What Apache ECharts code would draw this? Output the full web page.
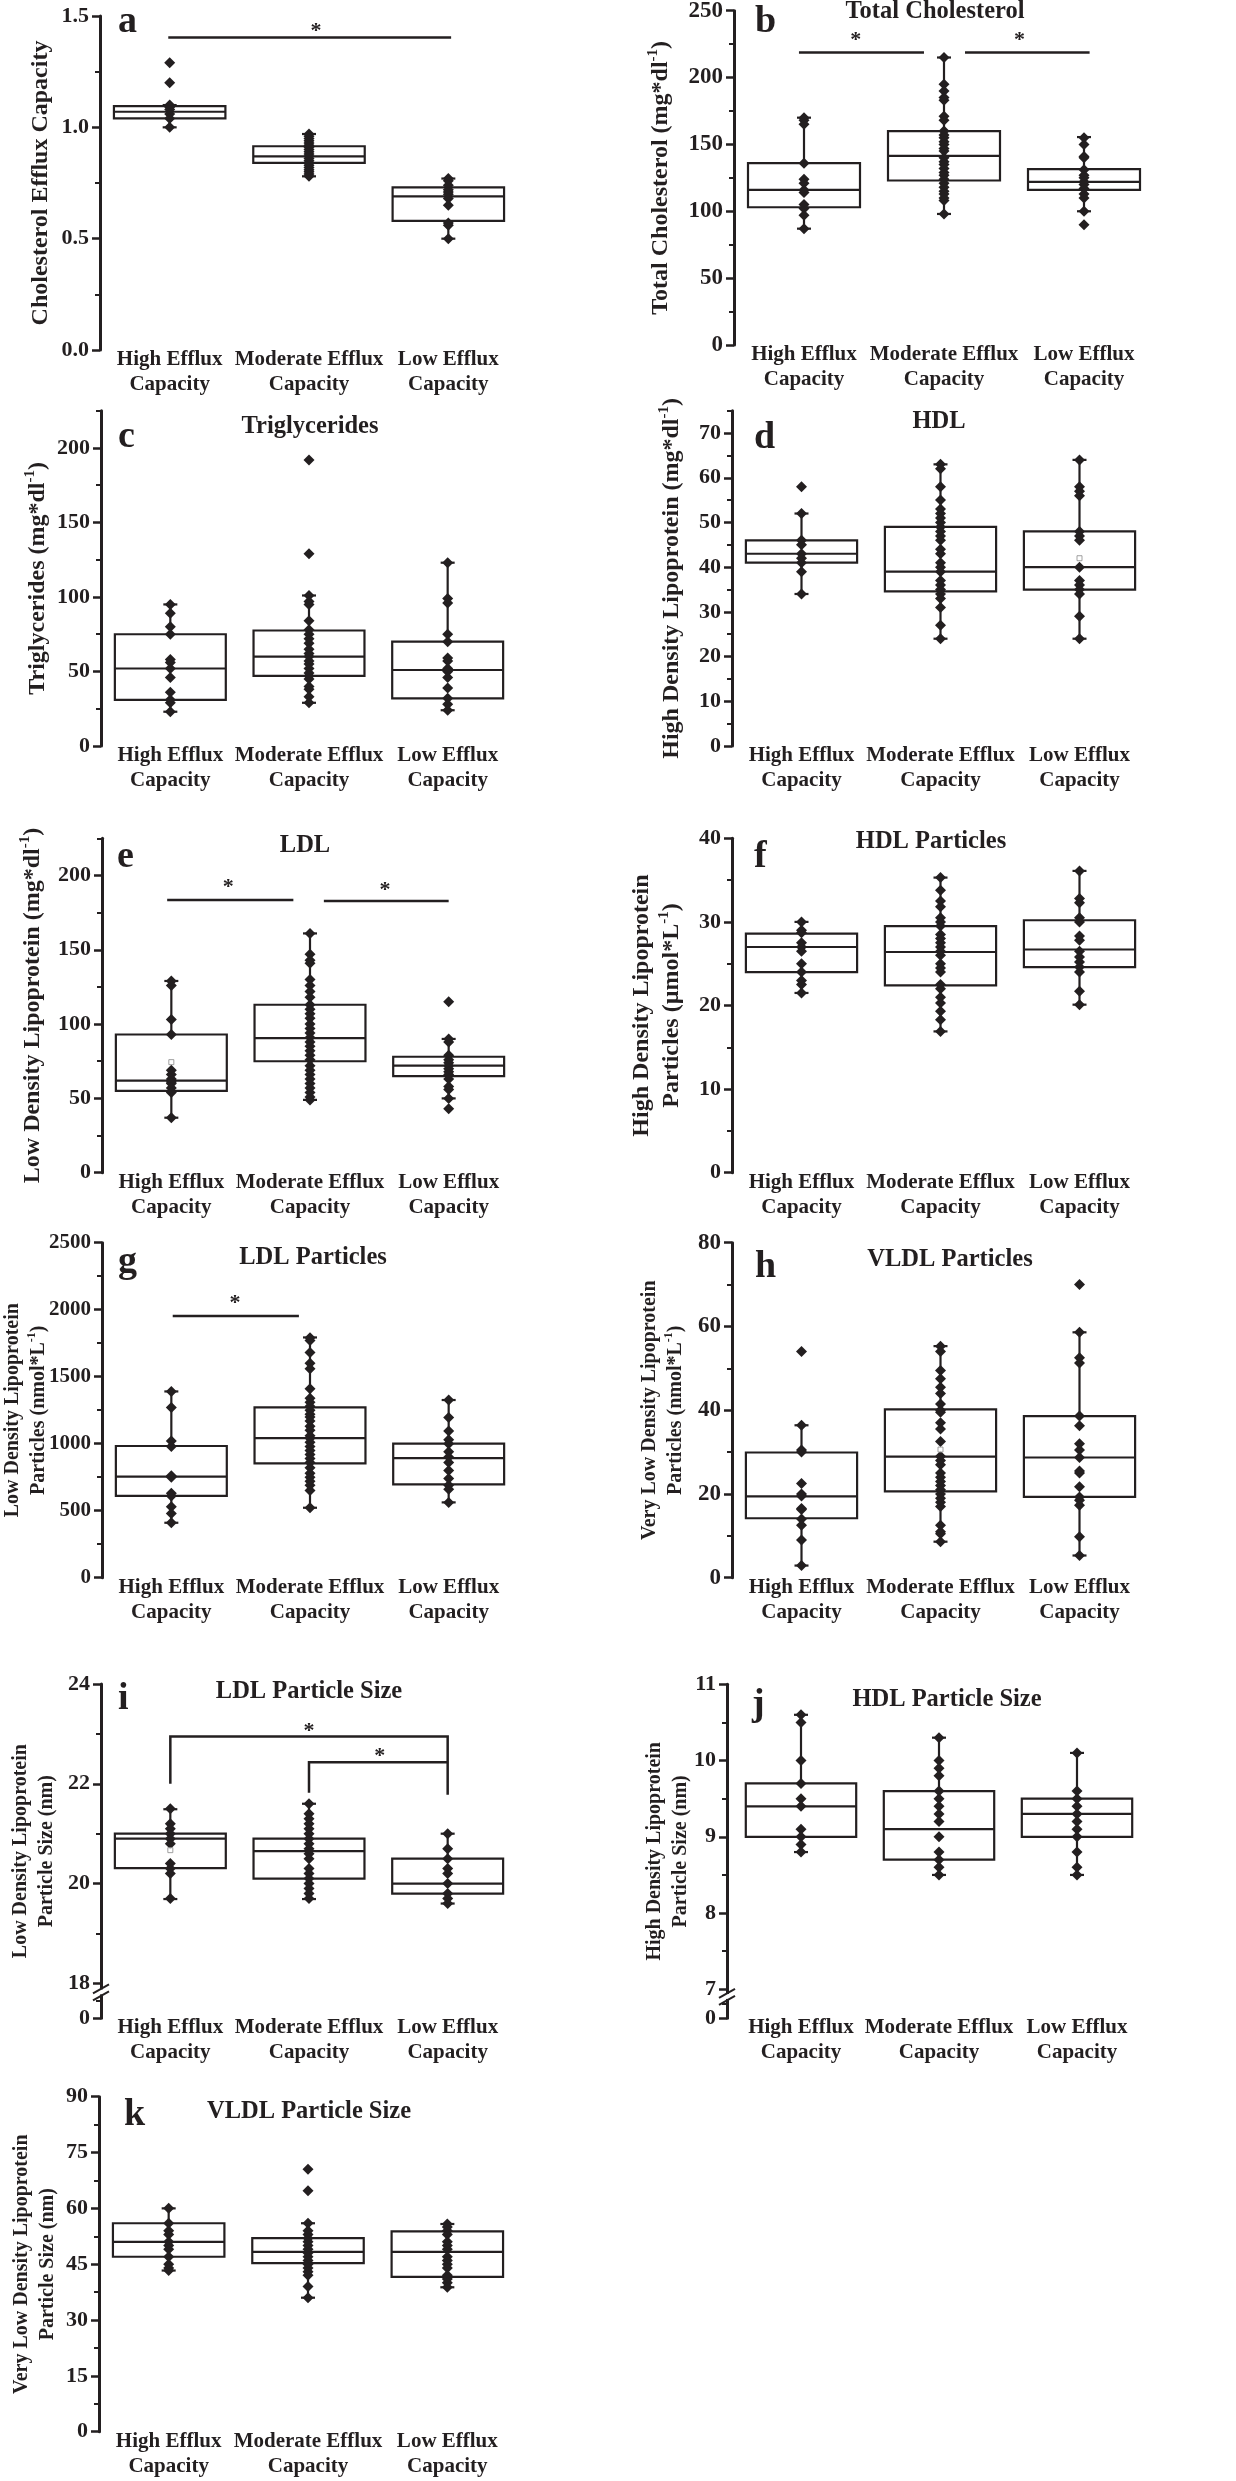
<!DOCTYPE html>
<html>
<head>
<meta charset="utf-8">
<script src="https://cdn.jsdelivr.net/npm/echarts@6/dist/echarts.min.js"></script>
<style>
  html, body { margin: 0; background: #fff; }
  #chart { width: 1236px; height: 2481px; }
</style>
</head>
<body>
<div id="chart"></div>
<script>
var groups = ['High Efflux\nCapacity', 'Moderate Efflux\nCapacity', 'Low Efflux\nCapacity'];

// box stats per group: [lower whisker, Q1, median, Q3, upper whisker]
var effluxBox = [[1.00, 1.04, 1.07, 1.095, 1.10], [0.78, 0.84, 0.87, 0.915, 0.97], [0.50, 0.58, 0.69, 0.73, 0.77]];
var effluxPts = [
  [1.29, 1.20, 1.10, 1.09, 1.08, 1.06, 1.04, 1.00],
  [0.97, 0.96, 0.95, 0.94, 0.93, 0.92, 0.91, 0.90, 0.89, 0.88, 0.87, 0.86, 0.85, 0.84, 0.83, 0.82, 0.81, 0.80, 0.79, 0.78],
  [0.77, 0.76, 0.74, 0.72, 0.71, 0.70, 0.68, 0.65, 0.57, 0.56, 0.50]
];
var effluxTicks = [0, 0.5, 1, 1.5];

var tcBox = [[87, 103, 116, 136, 170], [98, 123, 141.5, 160, 215], [100, 116, 122, 131.5, 155.5]];
var tcPts = [
  [170, 168, 165, 136, 124, 121, 116, 114, 105, 102, 97, 87],
  [215, 195, 190, 185, 183, 171, 168, 160, 157, 155, 152, 150, 147, 145, 140, 137, 135, 132, 129, 127, 124, 121, 118, 115, 113, 110, 108, 98],
  [155, 150, 141, 140, 131, 127, 125, 122, 120, 117, 113, 110, 100, 90]
];
var tcTicks = [0, 50, 100, 150, 200, 250];

var tgBox = [[23, 31, 52, 75, 95], [29, 47, 60, 77.5, 101], [24, 32, 51, 70, 123]];
var tgPts = [
  [95, 89, 80, 75, 58, 56, 52, 46, 36, 31, 29, 23],
  [192, 129, 101, 97, 95, 84, 78, 75, 72, 69, 65, 62, 60, 57, 55, 52, 49, 47, 45, 40, 38, 33, 29],
  [123, 99, 96, 75, 70, 59, 57, 52, 50, 46, 39, 32, 28, 24]
];
var tgTicks = [0, 50, 100, 150, 200];

var hdlBox = [[34, 41, 43, 46, 52], [24, 34.6, 39, 49, 63], [24, 35, 40, 48, 64]];
var hdlPts = [
  [58, 52, 46, 45, 43, 42, 41, 39, 34],
  [63, 62, 58, 55, 53, 52, 51, 50, 49, 48, 47, 46, 44, 43, 41, 40, 39, 37, 36, 35, 34, 33, 31, 27, 24],
  [64, 58, 57, 56, 48, 47, 46, 40, 37, 36, 35, 34, 29, 24]
];
var hdlMean = [null, null, 42];
var hdlTicks = [0, 10, 20, 30, 40, 50, 60, 70];

var ldlBox = [[37, 55, 62, 93, 129], [49, 75, 90.5, 113, 161], [50, 65, 72, 78, 90]];
var ldlPts = [
  [129, 126, 103, 93, 69, 66, 63, 61, 60, 57, 54, 37],
  [161, 147, 143, 141, 130, 126, 122, 118, 113, 110, 107, 104, 100, 97, 94, 91, 88, 85, 82, 79, 76, 72, 69, 66, 63, 60, 57, 54, 51, 49],
  [115, 90, 88, 79, 76, 74, 72, 70, 68, 66, 63, 58, 56, 50, 43]
];
var ldlMean = [74.4, null, null];
var ldlTicks = [0, 50, 100, 150, 200];

var hdlpBox = [[21.5, 24, 27, 28.6, 30], [16.9, 22.4, 26.4, 29.5, 35.3], [20.1, 24.6, 26.7, 30.2, 36.1]];
var hdlpPts = [
  [30, 29, 28.7, 27.5, 27, 26.5, 25, 24, 23, 22.5, 21.5],
  [35.3, 33.8, 32.5, 31.8, 30.5, 30, 29.5, 28.5, 28, 27.5, 27, 26.5, 26, 25, 24.5, 24, 22.5, 22, 21, 20.3, 19.3, 18.3, 16.9],
  [36.1, 32.8, 32.3, 30.5, 30, 28.3, 27.8, 26.5, 25.8, 25.2, 24.6, 24, 21.7, 20.1]
];
var hdlpTicks = [0, 10, 20, 30, 40];

var ldlpBox = [[410, 610, 754, 983, 1390], [522, 853, 1042, 1271, 1793], [562, 697, 893, 1000, 1326]];
var ldlpPts = [
  [1390, 1270, 1020, 980, 760, 750, 630, 610, 530, 480, 410],
  [1790, 1770, 1680, 1600, 1560, 1410, 1340, 1310, 1280, 1250, 1220, 1200, 1170, 1130, 1100, 1060, 1040, 1010, 980, 950, 920, 890, 860, 820, 780, 750, 720, 690, 650, 522],
  [1326, 1195, 1095, 1030, 1000, 940, 900, 860, 800, 740, 690, 660, 562]
];
var ldlpTicks = [0, 500, 1000, 1500, 2000, 2500];

var vldlpBox = [[2.9, 14.2, 19.4, 29.9, 36.4], [8.6, 20.6, 28.9, 40.2, 55.3], [5.3, 19.3, 28.7, 38.6, 58.6]];
var vldlpPts = [
  [54, 36.4, 30.5, 30, 22.5, 20, 19.5, 16.5, 16.3, 14, 12.5, 9, 2.9],
  [55.3, 54, 49.5, 47.5, 45.5, 44, 41.5, 40, 39.5, 37, 35.5, 32.5, 29, 28, 27, 25, 24, 23, 22, 21, 20, 19, 18, 17, 12.5, 11, 10.5, 8.6],
  [70, 58.6, 52.5, 51.3, 38.6, 36.3, 32, 30.5, 28.7, 25.5, 25, 21.7, 19.3, 18.5, 17.3, 9.8, 5.3]
];
var vldlpMean = [null, 30.6, null];
var vldlpTicks = [0, 20, 40, 60, 80];

var ldlsBox = [[19.69, 20.31, 20.9, 21.0, 21.49], [19.69, 20.1, 20.65, 20.9, 21.6], [19.6, 19.8, 20.0, 20.5, 21.0]];
var ldlsPts = [
  [21.5, 21.2, 21.1, 21.0, 20.9, 20.8, 20.4, 20.3, 20.2, 19.7],
  [21.6, 21.4, 21.3, 21.2, 21.1, 21.0, 20.9, 20.8, 20.7, 20.6, 20.5, 20.3, 20.2, 20.1, 20.0, 19.9, 19.8, 19.7],
  [21.0, 20.7, 20.5, 20.3, 20.2, 20.0, 19.8, 19.7, 19.6]
];
var ldlsMean = [20.67, null, null];
var ldlsTicks = [17.3, 18, 20, 22, 24];   // first tick sits below the axis break and reads "0"

var hdlsBox = [[8.8, 9.0, 9.4, 9.7, 10.6], [8.5, 8.7, 9.1, 9.6, 10.3], [8.5, 9.0, 9.3, 9.5, 10.1]];
var hdlsPts = [
  [10.6, 10.5, 10.0, 9.7, 9.5, 9.4, 9.1, 9.0, 8.9, 8.8],
  [10.3, 10.0, 9.9, 9.8, 9.6, 9.5, 9.4, 9.3, 9.2, 9.0, 8.8, 8.7, 8.6, 8.5],
  [10.1, 9.6, 9.5, 9.4, 9.3, 9.2, 9.1, 9.0, 8.8, 8.6, 8.5]
];
var hdlsTicks = [6.62, 7, 8, 9, 10, 11];  // first tick reads "0"

var vldlsBox = [[43.3, 47, 51, 56, 60], [36, 45.3, 48.3, 52, 56], [38.8, 41.6, 48.3, 53.8, 55.8]];
var vldlsPts = [
  [60, 56, 54, 53, 51, 50, 49, 47, 45, 44, 43.3],
  [70.5, 64.7, 56, 54, 53, 52, 51, 50, 49, 48, 47, 46, 45, 44, 43, 42, 39, 36],
  [55.8, 55, 54, 53, 51, 50, 49, 47, 46, 45, 44, 42, 41, 40, 38.8]
];
var vldlsTicks = [0, 15, 30, 45, 60, 75, 90];

var INK = '#231f20';
var FONT = '"Liberation Serif", "Times New Roman", serif';

// minor ticks halfway between majors
function mids(t, extra) {
  var out = [];
  for (var i = 1; i < t.length; i++) out.push((t[i - 1] + t[i]) / 2);
  return out.concat(extra || []);
}

var panels = [
  {box: effluxBox, pts: effluxPts, ticks: effluxTicks, minor: mids(effluxTicks), min: 0, max: 1.5, dec: 1,
   grid: [100, 16, 418, 334], name: '{t|Cholesterol Efflux Capacity}', nameGap: 44, nameSize: 24,
   letter: ['a', 118, 22],
   sig: [{line: [[-0.01, 1.403], [2.02, 1.403]], star: [1.05, 1.445]}]},
  {box: tcBox, pts: tcPts, ticks: tcTicks, minor: mids(tcTicks), min: 0, max: 250, tickSize: 23,
   grid: [734, 10.7, 420, 334.3], name: '{t|Total Cholesterol (mg*dl}{s|-1}{t|)}', nameGap: 58, nameSize: 24,
   letter: ['b', 755, 22], title: ['Total Cholesterol', 935, 12],
   sig: [{line: [[-0.036, 218.8], [0.857, 218.8]], star: [0.37, 230]},
         {line: [[1.15, 218.8], [2.04, 218.8]], star: [1.54, 230]}]},
  {box: tgBox, pts: tgPts, ticks: tgTicks, minor: mids(tgTicks, [225]), min: 0, max: 225,
   grid: [101, 410.7, 416, 335.3], name: '{t|Triglycerides (mg*dl}{s|-1}{t|)}', nameGap: 48, nameSize: 24,
   letter: ['c', 118, 437], title: ['Triglycerides', 310, 427]},
  {box: hdlBox, pts: hdlPts, mean: hdlMean, ticks: hdlTicks, minor: mids(hdlTicks, [75]), min: 0, max: 75,
   grid: [732, 410.7, 417, 335.3], name: '{t|High Density Lipoprotein (mg*dl}{s|-1}{t|)}', nameGap: 45, nameSize: 24,
   letter: ['d', 754, 438], title: ['HDL', 939, 422]},
  {box: ldlBox, pts: ldlPts, mean: ldlMean, ticks: ldlTicks, minor: mids(ldlTicks, [225]), min: 0, max: 225,
   grid: [102, 838.3, 416, 334.4], name: '{t|Low Density Lipoprotein (mg*dl}{s|-1}{t|)}', nameGap: 54, nameSize: 24,
   letter: ['e', 117, 857], title: ['LDL', 305, 846],
   sig: [{line: [[-0.03, 183.5], [0.88, 183.5]], star: [0.41, 194]},
         {line: [[1.10, 182.8], [2.0, 182.8]], star: [1.54, 192.3]}]},
  {box: hdlpBox, pts: hdlpPts, ticks: hdlpTicks, minor: mids(hdlpTicks), min: 0, max: 40,
   grid: [732, 838.3, 417, 334.4], name: '{t|High Density Lipoprotein}\n{t|Particles (\u00b5mol*L}{s|-1}{t|)}', nameGap: 45, nameSize: 24,
   letter: ['f', 754, 857], title: ['HDL Particles', 931, 842]},
  {box: ldlpBox, pts: ldlpPts, ticks: ldlpTicks, minor: mids(ldlpTicks), min: 0, max: 2500, tickSize: 21,
   grid: [102, 1242.7, 416, 335], name: '{t|Low Density Lipoprotein}\n{t|Particles (nmol*L}{s|-1}{t|)}', nameGap: 50, nameSize: 20,
   letter: ['g', 118, 1262], title: ['LDL Particles', 313, 1258],
   sig: [{line: [[0.01, 1953], [0.92, 1953]], star: [0.46, 2072]}]},
  {box: vldlpBox, pts: vldlpPts, mean: vldlpMean, ticks: vldlpTicks, minor: mids(vldlpTicks), min: 0, max: 80, tickSize: 23,
   grid: [732, 1242.7, 417, 335], name: '{t|Very Low Density Lipoprotein}\n{t|Particles (nmol*L}{s|-1}{t|)}', nameGap: 43, nameSize: 20,
   letter: ['h', 755, 1267], title: ['VLDL Particles', 950, 1260]},
  {box: ldlsBox, pts: ldlsPts, mean: ldlsMean, ticks: ldlsTicks, minor: mids(ldlsTicks), min: 17.3, max: 24, broken: 17.82,
   grid: [101, 1684, 416, 334.3], name: '{t|Low Density Lipoprotein}\n{t|Particle Size (nm)}', nameGap: 41, nameSize: 20,
   letter: ['i', 118, 1699], title: ['LDL Particle Size', 309, 1692],
   sig: [{line: [[0, 22.0], [0, 22.95], [2, 22.95], [2, 21.78]], star: [1.0, 23.12]},
         {line: [[1, 21.82], [1, 22.43], [2, 22.43]], star: [1.51, 22.61]}]},
  {box: hdlsBox, pts: hdlsPts, ticks: hdlsTicks, minor: mids(hdlsTicks), min: 6.62, max: 11, broken: 6.9,
   grid: [732, 1684.3, 414, 334], axisOffset: 5, name: '{t|High Density Lipoprotein}\n{t|Particle Size (nm)}', nameGap: 33, nameSize: 20,
   letter: ['j', 752, 1705], title: ['HDL Particle Size', 947, 1700]},
  {box: vldlsBox, pts: vldlsPts, ticks: vldlsTicks, minor: mids(vldlsTicks), min: 0, max: 90,
   grid: [99, 2096.7, 418, 335], name: '{t|Very Low Density Lipoprotein}\n{t|Particle Size (nm)}', nameGap: 38, nameSize: 20,
   letter: ['k', 124, 2115], title: ['VLDL Particle Size', 309, 2112]}
];

function boxRender(params, api) {
  var c = api.value(0);
  var bw = api.size([1, 0])[0];
  var half = bw * 0.4;
  var cap = 7;
  var lo = api.coord([c, api.value(1)]);
  var q1 = api.coord([c, api.value(2)]);
  var md = api.coord([c, api.value(3)]);
  var q3 = api.coord([c, api.value(4)]);
  var hi = api.coord([c, api.value(5)]);
  var x = lo[0];
  var ln = {stroke: INK, lineWidth: 2.2};
  return {type: 'group', children: [
    {type: 'line', shape: {x1: x, y1: hi[1], x2: x, y2: lo[1]}, style: ln},
    {type: 'line', shape: {x1: x - cap, y1: hi[1], x2: x + cap, y2: hi[1]}, style: ln},
    {type: 'line', shape: {x1: x - cap, y1: lo[1], x2: x + cap, y2: lo[1]}, style: ln},
    {type: 'rect', shape: {x: x - half, y: q3[1], width: 2 * half, height: q1[1] - q3[1]},
     style: {fill: '#fff', stroke: INK, lineWidth: 2.2}},
    {type: 'line', shape: {x1: x - half, y1: md[1], x2: x + half, y2: md[1]}, style: {stroke: INK, lineWidth: 2.2}}
  ]};
}

function sigRender(sig) {
  return function (params, api) {
    var bw = api.size([1, 0])[0];
    var pt = function (p) { var q = api.coord([0, p[1]]); return [q[0] + p[0] * bw, q[1]]; };
    var kids = [];
    sig.forEach(function (s) {
      kids.push({type: 'polyline', shape: {points: s.line.map(pt)}, style: {stroke: INK, lineWidth: 2.5, fill: 'none'}});
      var sp = pt(s.star);
      kids.push({type: 'text', x: sp[0], y: sp[1] + 3,
        style: {text: '*', fill: INK, font: 'bold 22px ' + FONT, align: 'center', verticalAlign: 'middle',
                textAlign: 'center', textVerticalAlign: 'middle'}});
    });
    return {type: 'group', children: kids};
  };
}

function breakRender(bv, off) {
  return function (params, api) {
    var bw = api.size([1, 0])[0];
    var c = api.coord([0, bv]);
    var x = c[0] - bw / 2 - off, y = c[1];
    return {type: 'group', children: [
      {type: 'rect', shape: {x: x - 3, y: y - 3, width: 6, height: 5}, style: {fill: '#fff'}},
      {type: 'line', shape: {x1: x - 8, y1: y + 1, x2: x + 8, y2: y - 8}, style: {stroke: INK, lineWidth: 2}},
      {type: 'line', shape: {x1: x - 8, y1: y + 8, x2: x + 8, y2: y - 1}, style: {stroke: INK, lineWidth: 2}}
    ]};
  };
}

var option = {animation: false, backgroundColor: '#fff', grid: [], xAxis: [], yAxis: [], series: [], graphic: []};

panels.forEach(function (p, k) {
  var g = p.grid;
  option.grid.push({left: g[0], top: g[1], width: g[2], height: g[3], containLabel: false, outerBoundsMode: 'none'});
  option.xAxis.push({
    type: 'category', gridIndex: k, data: groups, boundaryGap: true,
    axisLine: {show: false}, axisTick: {show: false}, splitLine: {show: false},
    axisLabel: {interval: 0, margin: -3, fontFamily: FONT, fontWeight: 'bold', fontSize: 21, lineHeight: 25, color: INK}
  });
  var lh = p.nameSize >= 24 ? 30 : 26;
  var yi = option.yAxis.length;
  option.yAxis.push({
    type: 'value', gridIndex: k, min: p.min, max: p.max, position: 'left', offset: p.axisOffset || 0,
    name: p.name, nameLocation: 'middle', nameRotate: 90, nameGap: p.nameGap, nameMoveOverlap: false,
    nameTextStyle: {
      color: INK, fontFamily: FONT, fontWeight: 'bold', fontSize: p.nameSize, lineHeight: lh,
      rich: {
        t: {color: INK, fontFamily: FONT, fontWeight: 'bold', fontSize: p.nameSize, lineHeight: lh},
        s: {color: INK, fontFamily: FONT, fontWeight: 'bold', fontSize: Math.round(p.nameSize * 0.62), lineHeight: 14, verticalAlign: 'top'}
      }
    },
    splitLine: {show: false},
    axisLine: {show: true, lineStyle: {color: INK, width: 3}},
    axisTick: {show: true, length: 8, lineStyle: {color: INK, width: 2.5}, customValues: p.ticks},
    axisLabel: {
      customValues: p.ticks, margin: 11, color: INK, fontFamily: FONT, fontWeight: 'bold', fontSize: p.tickSize || 22,
      formatter: function (v) {
        if (p.broken && v === p.ticks[0]) return '0';
        return p.dec ? v.toFixed(p.dec) : String(v);
      }
    }
  });
  // minor ticks
  option.yAxis.push({
    type: 'value', gridIndex: k, min: p.min, max: p.max, position: 'left', offset: p.axisOffset || 0,
    axisLine: {show: false}, axisLabel: {show: false}, splitLine: {show: false},
    axisTick: {show: true, length: 5, lineStyle: {color: INK, width: 2}, customValues: p.minor}
  });

  option.series.push({
    type: 'custom', xAxisIndex: k, yAxisIndex: yi, z: 2,
    data: p.box.map(function (b, i) { return [i].concat(b); }),
    encode: {x: 0, y: [1, 2, 3, 4, 5]},
    renderItem: boxRender
  });
  var pts = [];
  p.pts.forEach(function (arr, i) { arr.forEach(function (v) { pts.push([i, v]); }); });
  option.series.push({
    type: 'scatter', xAxisIndex: k, yAxisIndex: yi, z: 3, symbol: 'diamond', symbolSize: 11,
    itemStyle: {color: INK, opacity: 1}, data: pts
  });
  if (p.mean) {
    var mp = [];
    p.mean.forEach(function (v, i) { if (v != null) mp.push([i, v]); });
    option.series.push({
      type: 'scatter', xAxisIndex: k, yAxisIndex: yi, z: 4, symbol: 'rect', symbolSize: 5,
      itemStyle: {color: '#fff', borderColor: '#8a8a8a', borderWidth: 1}, data: mp
    });
  }
  if (p.sig) {
    option.series.push({
      type: 'custom', xAxisIndex: k, yAxisIndex: yi, z: 5, data: [[0, p.min]],
      encode: {x: 0, y: 1}, renderItem: sigRender(p.sig)
    });
  }
  if (p.broken) {
    option.series.push({
      type: 'custom', xAxisIndex: k, yAxisIndex: yi, z: 5, data: [[0, p.broken]],
      encode: {x: 0, y: 1}, renderItem: breakRender(p.broken, p.axisOffset || 0)
    });
  }

  option.graphic.push({
    type: 'text', x: p.letter[1], y: p.letter[2],
    style: {text: p.letter[0], fill: INK, font: 'bold 38px ' + FONT, align: 'left', verticalAlign: 'middle',
            textAlign: 'left', textVerticalAlign: 'middle'}
  });
  if (p.title) {
    option.graphic.push({
      type: 'text', x: p.title[1], y: p.title[2],
      style: {text: p.title[0], fill: INK, font: 'bold 24.5px ' + FONT, align: 'center', verticalAlign: 'middle',
              textAlign: 'center', textVerticalAlign: 'middle'}
    });
  }
});

var chart = echarts.init(document.getElementById('chart'), null, {renderer: 'canvas'});
chart.setOption(option);
</script>
</body>
</html>
